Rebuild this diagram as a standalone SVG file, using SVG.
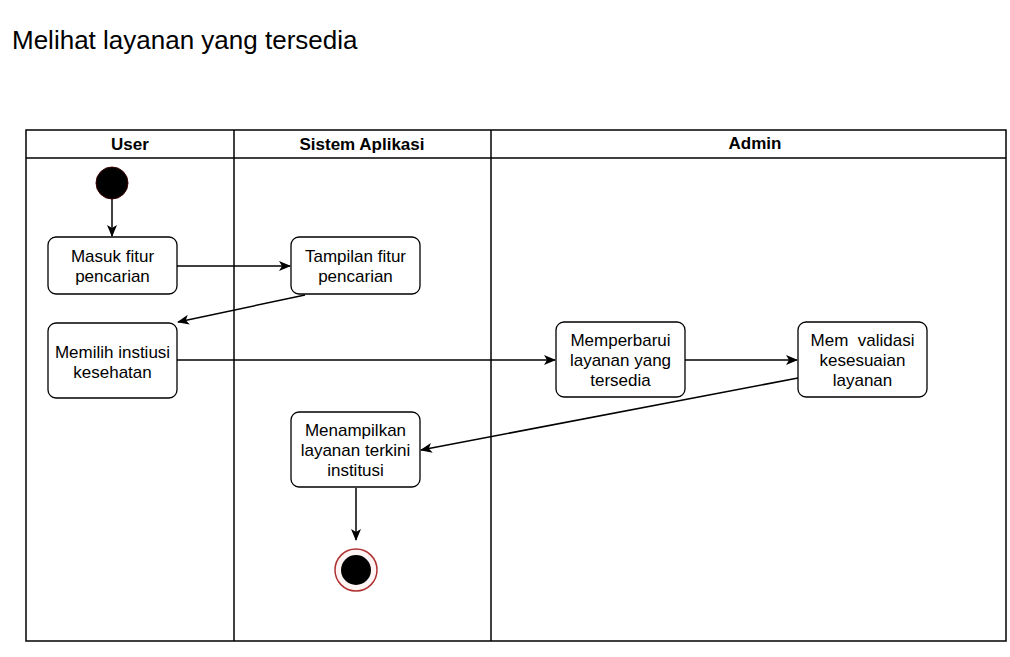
<svg xmlns="http://www.w3.org/2000/svg" width="1010" height="657" viewBox="0 0 1010 657">
<style>
.bg{fill:#ffffff}
.lane{fill:none;stroke:#000;stroke-width:1.5}
.hdr{font-family:"Liberation Sans",Arial,sans-serif;font-size:17px;font-weight:bold;text-anchor:middle;fill:#000}
.node rect{fill:#fff;stroke:#000;stroke-width:1.3}
.node text{font-family:"Liberation Sans",Arial,sans-serif;font-size:17px;text-anchor:middle;fill:#000}
.edge{fill:none;stroke:#000;stroke-width:1.5}
.title{font-family:"Liberation Sans",Arial,sans-serif;font-size:26px;fill:#000}
</style>
<defs>
<marker id="arr" viewBox="0 0 12 10" refX="11" refY="5" markerWidth="12" markerHeight="10" markerUnits="userSpaceOnUse" orient="auto">
<path d="M0,0 L12,5 L0,10 L3,5 Z" fill="#000"/>
</marker>
</defs>
<rect class="bg" x="0" y="0" width="1010" height="657"/>
<text class="title" x="12" y="49">Melihat layanan yang tersedia</text>
<g id="swimlanes">
<rect class="lane" x="26" y="130" width="980" height="511"/>
<line class="lane" x1="26" y1="158" x2="1006" y2="158"/>
<line class="lane" x1="234" y1="130" x2="234" y2="641"/>
<line class="lane" x1="491" y1="130" x2="491" y2="641"/>
<text class="hdr" x="130" y="150">User</text>
<text class="hdr" x="362" y="150">Sistem Aplikasi</text>
<text class="hdr" x="755" y="149">Admin</text>
</g>
<g id="connectors">
<line class="edge" x1="112" y1="199" x2="112" y2="236" marker-end="url(#arr)"/>
<line class="edge" x1="177" y1="266" x2="290" y2="266" marker-end="url(#arr)"/>
<line class="edge" x1="305" y1="295" x2="178" y2="322" marker-end="url(#arr)"/>
<line class="edge" x1="177" y1="360" x2="555" y2="360" marker-end="url(#arr)"/>
<line class="edge" x1="685" y1="360" x2="797" y2="360" marker-end="url(#arr)"/>
<line class="edge" x1="798" y1="378" x2="421" y2="450" marker-end="url(#arr)"/>
<line class="edge" x1="356" y1="488" x2="356" y2="540" marker-end="url(#arr)"/>
</g>
<g id="start">
<circle cx="112" cy="183" r="16" fill="#000" stroke="#3a0000" stroke-width="1"/>
</g>
<g id="n1" class="node">
<rect x="48" y="237" width="129" height="57" rx="8"/>
<text x="112.5" y="262">Masuk fitur</text>
<text x="112.5" y="282">pencarian</text>
</g>
<g id="n2" class="node">
<rect x="291" y="237" width="129" height="57" rx="8"/>
<text x="355.5" y="262">Tampilan fitur</text>
<text x="355.5" y="282">pencarian</text>
</g>
<g id="n3" class="node">
<rect x="48" y="323" width="129" height="75" rx="8"/>
<text x="112.5" y="358">Memilih instiusi</text>
<text x="112.5" y="378">kesehatan</text>
</g>
<g id="n4" class="node">
<rect x="556" y="322" width="129" height="75" rx="8"/>
<text x="620.5" y="346">Memperbarui</text>
<text x="620.5" y="366">layanan yang</text>
<text x="620.5" y="386">tersedia</text>
</g>
<g id="n5" class="node">
<rect x="798" y="322" width="129" height="75" rx="8"/>
<text x="862.5" y="346" xml:space="preserve">Mem  validasi</text>
<text x="862.5" y="366">kesesuaian</text>
<text x="862.5" y="386">layanan</text>
</g>
<g id="n6" class="node">
<rect x="291" y="412" width="129" height="75" rx="8"/>
<text x="355.5" y="436">Menampilkan</text>
<text x="355.5" y="456">layanan terkini</text>
<text x="355.5" y="476">institusi</text>
</g>
<g id="end">
<circle cx="356" cy="570" r="21" fill="#fff4f4" stroke="#b03030" stroke-width="1.5"/>
<circle cx="356" cy="570" r="15" fill="#000"/>
</g>
</svg>
